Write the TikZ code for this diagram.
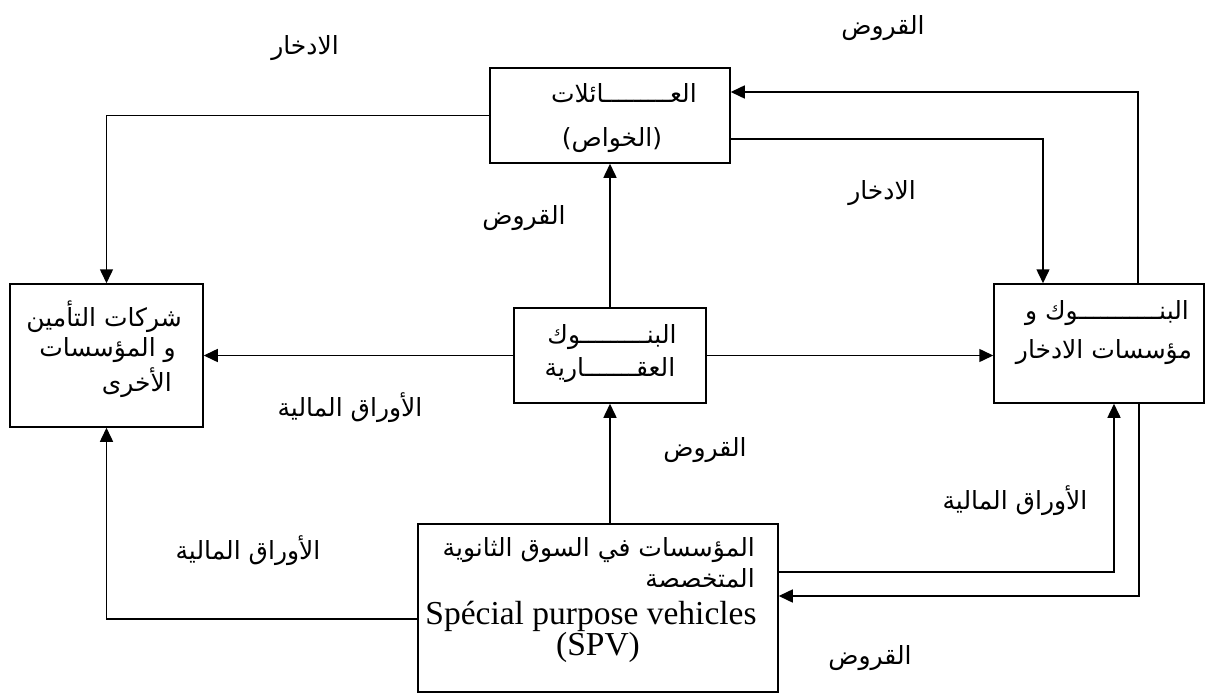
\documentclass[tikz,border=0pt]{standalone}
\usepackage{fontspec}
\setmainfont{Liberation Serif}
\newfontfamily\arabicfont[Script=Arabic]{DejaVu Sans}
\usetikzlibrary{arrows.meta}
\TeXXeTstate=1
\newcommand{\AR}[1]{{\arabicfont\beginR #1\endR}}
\begin{document}
\begin{tikzpicture}[x=1pt,y=-1pt,
  box/.style={draw, line width=1.5pt, inner sep=0pt},
  arr/.style={line width=1.5pt, -{Triangle[length=14pt,width=13pt]}},
  ar/.style={inner sep=0pt, font=\fontsize{25}{29}\selectfont},
  lat/.style={inner sep=0pt, font=\fontsize{33.5}{36}\selectfont}]
\useasboundingbox (0,0) rectangle (1211,693);
% boxes
\node[box, minimum width=240pt, minimum height=95pt] (fam) at (610,115.5) {};
\node[box, minimum width=193pt, minimum height=143pt] (ins) at (106.5,355.5) {};
\node[box, minimum width=192pt, minimum height=95pt] (reb) at (610,355.5) {};
\node[box, minimum width=210pt, minimum height=119pt] (bank) at (1099,343.5) {};
\node[box, minimum width=360pt, minimum height=168pt] (spv) at (598,608) {};
% box texts
\node[ar] (fam1) at (624,93) {\AR{العـــــــــائلات}};
\node[ar] (fam2) at (612,140) {\AR{(الخواص)}};
\node[ar, anchor=east] (ins1) at (182,317) {\AR{شركات التأمين}};
\node[ar, anchor=east] (ins2) at (176,350) {\AR{و المؤسسات}};
\node[ar, anchor=east] (ins3) at (172,383) {\AR{الأخرى}};
\node[ar] (reb1) at (612,337) {\AR{البنـــــــــوك}};
\node[ar] (reb2) at (610,370) {\AR{العقـــــــارية}};
\node[ar] (bank1) at (1107,313) {\AR{البنـــــــــــوك و}};
\node[ar] (bank2) at (1104,352) {\AR{مؤسسات الادخار}};
\node[ar, anchor=east] (spv1) at (755,550) {\AR{المؤسسات في السوق الثانوية}};
\node[ar, anchor=east] (spv2) at (755,578) {\AR{المتخصصة}};
\node[lat] (spv3) at (591,616) {Spécial purpose vehicles};
\node[lat] (spv4) at (598,647) {(SPV)};
% connectors
\draw[arr] (fam.west) -| (ins.north);
\draw[arr] ([xshift=39pt]bank.north) |- ([yshift=23.5pt]fam.east);
\draw[arr] ([yshift=-23.5pt]fam.east) -| ([xshift=-56pt]bank.north);
\draw[arr] (reb.north) -- (fam.south);
\draw[arr] (reb.west) -- (ins.east);
\draw[arr] (reb.east) -- (reb.east -| bank.west);
\draw[arr] (spv.north -| reb.south) -- (reb.south);
\draw[arr] ([yshift=-11pt]spv.west) -| (ins.south);
\draw[arr] ([yshift=36pt]spv.east) -| ([xshift=15pt]bank.south);
\draw[arr] ([xshift=40pt]bank.south) |- ([yshift=12pt]spv.east);
% labels
\node[ar] (l1) at (305,48) {\AR{الادخار}};
\node[ar] (l2) at (883,28) {\AR{القروض}};
\node[ar] (l3) at (882,193) {\AR{الادخار}};
\node[ar] (l4) at (524,218) {\AR{القروض}};
\node[ar] (l5) at (350,408) {\AR{الأوراق المالية}};
\node[ar] (l6) at (705,450) {\AR{القروض}};
\node[ar] (l7) at (248,551) {\AR{الأوراق المالية}};
\node[ar] (l8) at (1015,501) {\AR{الأوراق المالية}};
\node[ar] (l9) at (870,658) {\AR{القروض}};
\end{tikzpicture}
\end{document}
